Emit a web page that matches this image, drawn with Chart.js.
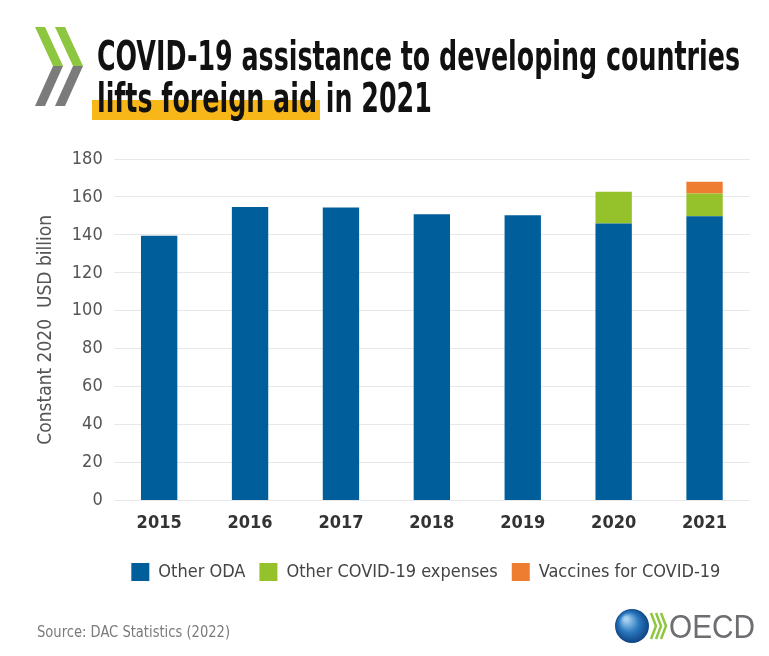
<!DOCTYPE html>
<html>
<head>
<meta charset="utf-8">
<script src="https://cdn.jsdelivr.net/npm/chart.js@4.4.1/dist/chart.umd.min.js"></script>
<style>
  html, body { margin: 0; padding: 0; background: #ffffff; }
  #wrap { width: 769px; height: 656px; position: relative; }
</style>
</head>
<body>
<div id="wrap"><canvas id="odaChart" width="769" height="656"></canvas></div>
<script>
const years = ["2015", "2016", "2017", "2018", "2019", "2020", "2021"];
const otherOda = [139.5, 154.7, 154.4, 150.9, 150.4, 146.0, 149.8];
const otherCovid = [null, null, null, null, null, 16.7, 12.0];
const vaccines = [null, null, null, null, null, null, 6.2];
const yTicks = [0, 20, 40, 60, 80, 100, 120, 140, 160, 180];

const narrow = '"Liberation Sans Narrow", "DejaVu Sans Condensed", "Roboto Condensed", sans-serif';

// centre the legend under the plot area rather than the whole canvas
const legendShift = {
  id: "legendShift",
  afterLayout(chart) {
    const legend = chart.legend;
    const shift = (chart.chartArea.left + chart.chartArea.right) / 2 - (legend.left + legend.right) / 2 - 6;
    legend.left += shift;
    legend.right += shift;
  },
};

// title, chevrons, source line and OECD logo
const decorations = {
  id: "decorations",
  afterDraw(chart) {
    const { ctx } = chart;
    ctx.save();

    // chevrons
    [35, 55].forEach(function (x0) {
      ctx.fillStyle = "#8dc63f";
      ctx.beginPath();
      ctx.moveTo(x0, 27);
      ctx.lineTo(x0 + 10, 27);
      ctx.lineTo(x0 + 28, 66);
      ctx.lineTo(x0 + 18, 66);
      ctx.closePath();
      ctx.fill();
      ctx.fillStyle = "#7b7b7b";
      ctx.beginPath();
      ctx.moveTo(x0 + 18, 66);
      ctx.lineTo(x0 + 28, 66);
      ctx.lineTo(x0 + 10, 106);
      ctx.lineTo(x0, 106);
      ctx.closePath();
      ctx.fill();
    });

    // title
    const line1 = "COVID-19 assistance to developing countries";
    const hl = "lifts foreign aid";
    const line2 = "lifts foreign aid in 2021";
    ctx.font = "bold 41px " + narrow;
    const sx = 643 / ctx.measureText(line1).width;
    const hlW = ctx.measureText(hl).width * sx;
    ctx.fillStyle = "#f8b719";
    ctx.fillRect(92, 100, hlW + 8, 20);
    ctx.fillStyle = "#111111";
    ctx.textBaseline = "alphabetic";
    ctx.save();
    ctx.translate(97, 0);
    ctx.scale(sx, 1);
    ctx.fillText(line1, 0, 70);
    ctx.fillText(line2, 0, 112);
    ctx.restore();

    // source
    ctx.font = "16px " + narrow;
    ctx.fillStyle = "#7a7a7a";
    ctx.fillText("Source: DAC Statistics (2022)", 37, 637, 193);

    // OECD logo
    const g = ctx.createRadialGradient(626, 619, 2, 632, 626, 18);
    g.addColorStop(0, "#a4d0f0");
    g.addColorStop(0.5, "#2a78be");
    g.addColorStop(1, "#0b3f7d");
    ctx.fillStyle = g;
    ctx.beginPath();
    ctx.arc(632, 626, 17, 0, Math.PI * 2);
    ctx.fill();
    ctx.strokeStyle = "#8dc63f";
    ctx.lineWidth = 2.5;
    [651, 656, 661].forEach(function (x) {
      ctx.beginPath();
      ctx.moveTo(x, 613);
      ctx.lineTo(x + 5, 626);
      ctx.lineTo(x, 639);
      ctx.stroke();
    });
    ctx.font = "33px " + '"Liberation Sans", Arial, sans-serif';
    ctx.fillStyle = "#6d6e71";
    ctx.fillText("OECD", 669, 638, 86);

    ctx.restore();
  },
};

const ctx = document.getElementById("odaChart").getContext("2d");

const odaChart = new Chart(ctx, {
  type: "bar",
  data: {
    labels: years,
    datasets: [
      {
        label: "Other ODA",
        data: otherOda,
        backgroundColor: "#005e9b",
      },
      {
        label: "Other COVID-19 expenses",
        data: otherCovid,
        backgroundColor: "#95c12b",
      },
      {
        label: "Vaccines for COVID-19",
        data: vaccines,
        backgroundColor: "#ef7d31",
      },
    ],
  },
  options: {
    responsive: false,
    animation: false,
    categoryPercentage: 0.8,
    barPercentage: 0.5,
    layout: {
      padding: { top: 159, right: 19, bottom: 65, left: 32 },
    },
    scales: {
      x: {
        stacked: true,
        grid: { display: false },
        border: { display: false },
        ticks: {
          color: "#333333",
          padding: 4,
          font: { family: narrow, size: 18, weight: "bold" },
        },
      },
      y: {
        stacked: true,
        min: 0,
        max: 180,
        afterBuildTicks: function (axis) {
          axis.ticks = yTicks.map(function (v) { return { value: v }; });
        },
        grid: { color: "#e8e8e8", drawTicks: false },
        border: { display: false },
        ticks: {
          color: "#555555",
          padding: 11,
          font: { family: narrow, size: 18 },
        },
        title: {
          display: true,
          text: "Constant 2020  USD billion",
          color: "#555555",
          padding: { top: 3, bottom: 3 },
          font: { family: narrow, size: 19 },
        },
      },
    },
    plugins: {
      legend: {
        position: "bottom",
        title: {
          display: true,
          text: "",
          padding: { top: 0, bottom: 6 },
          font: { size: 4 },
        },
        labels: {
          boxWidth: 18,
          boxHeight: 18,
          padding: 14,
          color: "#444444",
          font: { family: narrow, size: 18 },
        },
      },
      tooltip: { enabled: false },
    },
  },
  plugins: [decorations, legendShift],
});
</script>
</body>
</html>
